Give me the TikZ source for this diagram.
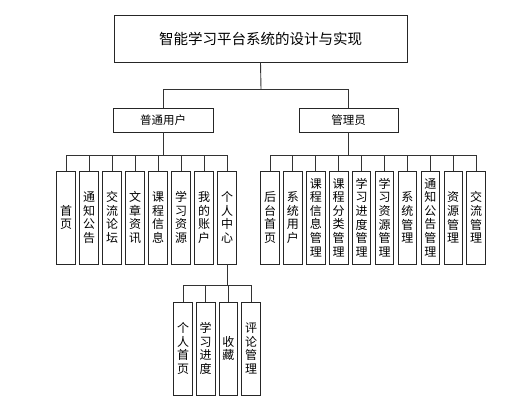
\documentclass[tikz,border=0pt]{standalone}
\usepackage{fontspec}
\setmainfont{Noto Sans CJK SC}
\begin{document}
\begin{tikzpicture}[x=1pt,y=-1pt,
  box/.style={draw=black!85, line width=0.9pt, inner sep=0pt},
  leaf/.style={box, minimum width=18.5pt, minimum height=93pt, align=center,
    font=\fontsize{12}{13.6}\selectfont},
  conn/.style={draw=black!80, line width=0.9pt}]
\useasboundingbox (0,0) rectangle (525,405);

\node[box, minimum width=293pt, minimum height=47pt, font=\fontsize{14.5}{17}\selectfont] (root) at (260.5,38.5) {智能学习平台系统的设计与实现};
\node[box, minimum width=100pt, minimum height=24pt, font=\fontsize{11.5}{14}\selectfont] (user) at (163,120) {普通用户};
\node[box, minimum width=99pt, minimum height=24pt, font=\fontsize{11.5}{14}\selectfont] (admin) at (348.5,120) {管理员};

\coordinate (j0) at (261,89);
\draw[conn] (root.south) -- (j0);
\draw[conn] (user.north) -- (user.north |- j0) -- (admin.north |- j0) -- (admin.north);

% user leaves
\foreach \t [count=\i] in {{首\\页},{通\\知\\公\\告},{交\\流\\论\\坛},{文\\章\\资\\讯},{课\\程\\信\\息},{学\\习\\资\\源},{我\\的\\账\\户},{个\\人\\中\\心}}
  \node[leaf] (L\i) at ({66+23*(\i-1)},217.5) {\t};
\coordinate (j1) at (163,155);
\draw[conn] (user.south) -- (j1);
\draw[conn] (L1.north |- j1) -- (L8.north |- j1);
\foreach \i in {1,...,8} \draw[conn] (L\i.north) -- (L\i.north |- j1);

% admin leaves
\foreach \t [count=\i] in {{后\\台\\首\\页},{系\\统\\用\\户},{课\\程\\信\\息\\管\\理},{课\\程\\分\\类\\管\\理},{学\\习\\进\\度\\管\\理},{学\\习\\资\\源\\管\\理},{系\\统\\管\\理},{通\\知\\公\\告\\管\\理},{资\\源\\管\\理},{交\\流\\管\\理}}
  \node[leaf] (R\i) at ({270+22.9*(\i-1)},217.5) {\t};
\coordinate (j2) at (348.5,155);
\draw[conn] (admin.south) -- (j2);
\draw[conn] (R1.north |- j2) -- (R10.north |- j2);
\foreach \i in {1,...,10} \draw[conn] (R\i.north) -- (R\i.north |- j2);

% personal center leaves
\foreach \t [count=\i] in {{个\\人\\首\\页},{学\\习\\进\\度},{收\\藏},{评\\论\\管\\理}}
  \node[leaf] (B\i) at ({183+22.7*(\i-1)},348.5) {\t};
\coordinate (j3) at (227,285);
\draw[conn] (L8.south) -- (j3);
\draw[conn] (B1.north |- j3) -- (B4.north |- j3);
\foreach \i in {1,...,4} \draw[conn] (B\i.north) -- (B\i.north |- j3);
\end{tikzpicture}
\end{document}
